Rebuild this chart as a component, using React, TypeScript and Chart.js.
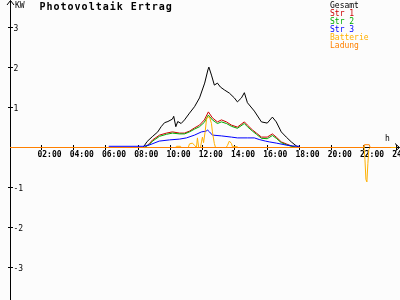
import React, { useEffect, useRef } from "react";
import { Chart, registerables } from "chart.js";

Chart.register(...registerables);

const TITLE = "Photovoltaik Ertrag";
const Y_UNIT = "KW";
const X_UNIT = "h";
const X_TICKS = [2, 4, 6, 8, 10, 12, 14, 16, 18, 20, 22, 24];
const X_TICK_LABELS = ["02:00", "04:00", "06:00", "08:00", "10:00", "12:00", "14:00", "16:00", "18:00", "20:00", "22:00", "24:00"];
const Y_TICKS = [3, 2, 1, -1, -2, -3];
const Y_TICK_LABELS = ["3", "2", "1", "-1", "-2", "-3"];

const SERIES_NAMES = ["Gesamt", "Str 1", "Str 2", "Str 3", "Batterie", "Ladung"];
const SERIES_COLORS = ["#000000", "#cc0000", "#00aa00", "#0000ff", "#ffb000", "#ff8000"];
const BG = "#fcfcfc";

// Gesamt (hours, kW)
const GESAMT_T = [6.0, 8.3, 8.55, 8.87, 9.21, 9.42, 9.63, 9.84, 10.12, 10.2, 10.33, 10.45, 10.66, 10.87, 11.18, 11.49, 11.8, 12.12, 12.32, 12.38, 12.54, 12.72, 12.91, 13.1, 13.34, 13.65, 13.96, 14.15, 14.4, 14.58, 14.77, 15.2, 15.64, 16.0, 16.32, 16.56, 16.87, 17.18, 17.49, 17.8, 18.0];
const GESAMT_V = [0, 0, 0.15, 0.27, 0.39, 0.52, 0.62, 0.65, 0.71, 0.78, 0.52, 0.65, 0.6, 0.69, 0.86, 1.02, 1.24, 1.61, 1.94, 2.01, 1.81, 1.56, 1.61, 1.51, 1.44, 1.36, 1.24, 1.14, 1.24, 1.37, 1.12, 0.91, 0.64, 0.61, 0.76, 0.64, 0.39, 0.26, 0.14, 0.04, 0];

// Str 1 / Str 2 share time stamps
const STR12_T = [6.0, 8.39, 8.7, 8.89, 9.32, 9.75, 10.12, 10.56, 10.87, 11.18, 11.49, 11.8, 12.1, 12.35, 12.6, 12.91, 13.16, 13.47, 13.78, 14.15, 14.58, 14.77, 15.08, 15.33, 15.64, 16.0, 16.32, 16.56, 16.87, 17.18, 17.49, 17.74, 18.0];
const STR1_V = [0, 0, 0.1, 0.19, 0.31, 0.36, 0.39, 0.36, 0.36, 0.41, 0.49, 0.56, 0.69, 0.89, 0.74, 0.64, 0.69, 0.64, 0.56, 0.51, 0.64, 0.56, 0.44, 0.36, 0.26, 0.26, 0.34, 0.26, 0.14, 0.09, 0.04, 0.01, 0];
const STR2_V = [0, 0, 0.08, 0.16, 0.28, 0.33, 0.36, 0.34, 0.34, 0.39, 0.46, 0.52, 0.63, 0.81, 0.69, 0.6, 0.64, 0.6, 0.53, 0.48, 0.6, 0.52, 0.41, 0.33, 0.23, 0.22, 0.3, 0.23, 0.12, 0.07, 0.03, 0.01, 0];

const STR3_T = [6.17, 8.3, 8.67, 9.3, 9.94, 10.56, 10.99, 11.49, 11.92, 12.23, 12.29, 12.42, 12.6, 13.16, 13.78, 14.15, 14.77, 15.2, 15.5, 15.89, 16.13, 16.56, 17.18, 17.55, 18.0];
const STR3_V = [0.03, 0.03, 0.06, 0.16, 0.19, 0.21, 0.24, 0.31, 0.39, 0.41, 0.44, 0.39, 0.31, 0.29, 0.26, 0.24, 0.24, 0.24, 0.2, 0.16, 0.14, 0.11, 0.06, 0.04, 0.03];

const BATT_T = [0, 10.3, 10.37, 10.62, 10.68, 11.1, 11.18, 11.36, 11.5, 11.61, 11.67, 11.75, 11.86, 11.92, 11.98, 12.05, 12.15, 12.23, 12.29, 12.42, 12.54, 12.6, 12.72, 12.79, 13.45, 13.53, 13.65, 13.78, 13.84, 14.15, 14.2, 21.95, 22.0, 22.06, 22.12, 22.18, 22.24, 22.3, 22.38, 24.0];
const BATT_V = [0, 0, 0.03, 0.03, 0, 0, 0.09, 0.11, 0.05, 0, 0.24, 0, 0, 0.14, 0.26, 0.12, 0.4, 0.69, 0.76, 0.76, 0.6, 0.39, 0.1, 0, 0, 0.05, 0.16, 0.1, 0.02, 0.02, 0, 0, 0.05, -0.3, -0.8, -0.86, -0.4, -0.05, 0, 0];

const LADUNG_T = [0, 21.98, 22.03, 22.33, 22.38, 23.67];
const LADUNG_V = [0, 0, 0.07, 0.07, 0, 0];

const SERIES_T = [GESAMT_T, STR12_T, STR12_T, STR3_T, BATT_T, LADUNG_T];
const SERIES_V = [GESAMT_V, STR1_V, STR2_V, STR3_V, BATT_V, LADUNG_V];

const MONO = "'DejaVu Sans Mono', monospace";

const decorPlugin = {
  id: "pvDecor",
  beforeDraw(chart: any) {
    const ctx = chart.ctx;
    ctx.save();
    ctx.fillStyle = BG;
    ctx.fillRect(0, 0, chart.width, chart.height);
    ctx.restore();
  },
  beforeDatasetsDraw(chart: any) {
    const { ctx, chartArea } = chart;
    const xs = chart.scales.x;
    const ys = chart.scales.y;
    const ax = chartArea.left + 0.5;
    const ay = ys.getPixelForValue(0);
    ctx.save();
    ctx.strokeStyle = "#000";
    ctx.lineWidth = 1;
    ctx.beginPath();
    // y axis
    ctx.moveTo(ax, chartArea.bottom);
    ctx.lineTo(ax, chartArea.top + 0.5);
    ctx.moveTo(ax - 3.5, 5);
    ctx.lineTo(ax, 0.5);
    ctx.lineTo(ax + 3.5, 5);
    // x axis
    ctx.moveTo(ax, ay);
    ctx.lineTo(chart.width - 0.5, ay);
    ctx.moveTo(chart.width - 5, ay - 4);
    ctx.lineTo(chart.width - 0.5, ay);
    ctx.lineTo(chart.width - 5, ay + 4);
    // y ticks
    Y_TICKS.forEach((v) => {
      const py = Math.round(ys.getPixelForValue(v) - 0.5) + 0.5;
      ctx.moveTo(ax - 2.5, py);
      ctx.lineTo(ax + 2.5, py);
    });
    // x ticks
    X_TICKS.forEach((h) => {
      const px = Math.round(xs.getPixelForValue(h) - 0.5) + 0.5;
      ctx.moveTo(px, ay - 2.5);
      ctx.lineTo(px, ay + 2.5);
    });
    ctx.stroke();

    ctx.fillStyle = "#000";
    ctx.textBaseline = "alphabetic";
    ctx.font = `8px ${MONO}`;
    ctx.textAlign = "left";
    Y_TICKS.forEach((v, i) => {
      const py = ys.getPixelForValue(v);
      ctx.fillText(Y_TICK_LABELS[i], ax + 3, py + 3.5);
    });
    ctx.fillText(Y_UNIT, ax + 4.5, 7.5);
    ctx.fillText(X_UNIT, 385, ay - 7);

    ctx.font = `bold 8px ${MONO}`;
    ctx.textAlign = "center";
    X_TICKS.forEach((h, i) => {
      const px = xs.getPixelForValue(h);
      ctx.fillText(X_TICK_LABELS[i], px + 8, ay + 9.5);
    });

    // title
    ctx.textAlign = "left";
    ctx.font = `bold 10px ${MONO}`;
    (ctx as any).letterSpacing = "1px";
    ctx.fillText(TITLE, 39.5, 10);
    (ctx as any).letterSpacing = "0px";

    // legend
    ctx.font = `8px ${MONO}`;
    SERIES_NAMES.forEach((name, i) => {
      ctx.fillStyle = SERIES_COLORS[i];
      ctx.fillText(name, 330, 7.5 + i * 8);
    });
    ctx.restore();
  },
};

export default function App() {
  const canvasRef = useRef<HTMLCanvasElement>(null);
  useEffect(() => {
    document.body.style.margin = "0";
    const canvas = canvasRef.current;
    if (!canvas) return;
    const datasets = SERIES_NAMES.map((name, i) => ({
      label: name,
      data: SERIES_T[i].map((t, j) => ({ x: t, y: SERIES_V[i][j] })),
      borderColor: SERIES_COLORS[i],
      backgroundColor: SERIES_COLORS[i],
      borderWidth: 1,
      pointRadius: 0,
      tension: 0,
      fill: false,
      order: SERIES_NAMES.length - i,
    }));
    const chart = new Chart(canvas, {
      type: "line",
      data: { datasets },
      options: {
        animation: false,
        responsive: false,
        devicePixelRatio: 1,
        layout: { padding: { left: 10, right: 0, top: 0, bottom: 0 } },
        plugins: { legend: { display: false }, title: { display: false }, tooltip: { enabled: false } },
        events: [],
        scales: {
          x: { type: "linear", display: false, min: 0.0465, max: 24.233 },
          y: { type: "linear", display: false, min: -3.8125, max: 3.6875 },
        },
      },
      plugins: [decorPlugin],
    });
    return () => chart.destroy();
  }, []);
  return (
    <div style={{ position: "fixed", left: 0, top: 0, width: 400, height: 300 }}>
      <canvas ref={canvasRef} width={400} height={300} style={{ display: "block" }} />
    </div>
  );
}
